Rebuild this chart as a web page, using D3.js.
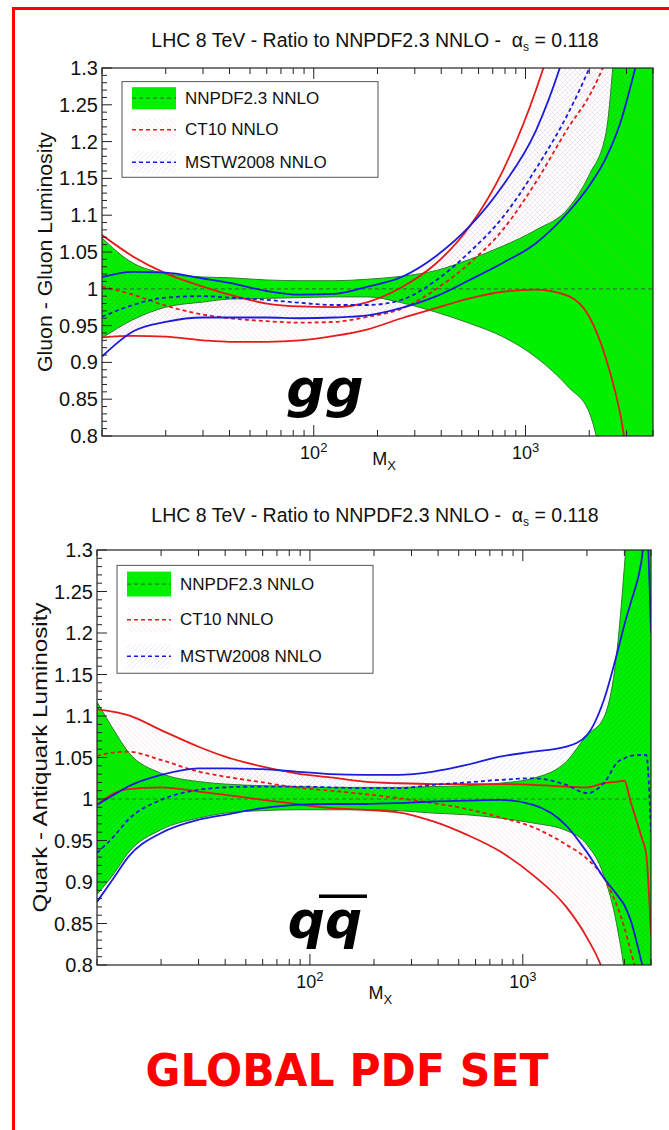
<!DOCTYPE html>
<html>
<head>
<meta charset="utf-8">
<script src="https://cdn.jsdelivr.net/npm/d3@7"></script>
<style>
  body { margin: 0; background: #fff; }
  svg { display: block; }
  text { font-family: "Liberation Sans", Arial, Helvetica, sans-serif; }
</style>
</head>
<body>
<div id="chart"></div>
<script>
// ---- data ----
// gluon-gluon panel
const massGG = [10, 14, 20, 30, 40, 60, 86, 125, 180, 260, 380, 545, 780, 1120, 1600, 2000, 2400, 2800, 3300, 4000];
const ggNnUp  = [1.069, 1.035, 1.021, 1.016, 1.015, 1.012, 1.011, 1.011, 1.013, 1.017, 1.025, 1.040, 1.058, 1.080, 1.110, 1.155, 1.212, 1.40, 1.45, 1.50];
const ggNnLo  = [0.933, 0.958, 0.975, 0.982, 0.986, 0.987, 0.988, 0.989, 0.989, 0.981, 0.968, 0.953, 0.935, 0.907, 0.866, 0.832, 0.75, 0.70, 0.65, 0.60];
const ggCtUp  = [1.073, 1.044, 1.021, 1.003, 0.992, 0.980, 0.976, 0.975, 0.982, 1.002, 1.035, 1.085, 1.160, 1.270, 1.420, 1.55, 1.65, 1.75, 1.85, 1.95];
const ggCtMid = [1.003, 0.992, 0.977, 0.965, 0.960, 0.956, 0.954, 0.955, 0.962, 0.973, 1.000, 1.035, 1.080, 1.145, 1.220, 1.262, 1.310, 1.36, 1.42, 1.50];
const ggCtLo  = [0.934, 0.936, 0.935, 0.930, 0.928, 0.928, 0.930, 0.936, 0.945, 0.960, 0.974, 0.987, 0.996, 0.999, 0.990, 0.962, 0.905, 0.830, 0.700, 0.600];
const ggMsUp  = [1.016, 1.023, 1.022, 1.014, 1.008, 0.997, 0.992, 0.993, 1.003, 1.016, 1.045, 1.085, 1.140, 1.215, 1.340, 1.45, 1.55, 1.65, 1.75, 1.85];
const ggMsMid = [0.962, 0.978, 0.988, 0.990, 0.988, 0.985, 0.981, 0.978, 0.978, 0.985, 1.012, 1.050, 1.097, 1.163, 1.240, 1.300, 1.36, 1.42, 1.50, 1.60];
const ggMsLo  = [0.908, 0.942, 0.955, 0.961, 0.961, 0.961, 0.960, 0.961, 0.964, 0.974, 0.990, 1.012, 1.035, 1.062, 1.105, 1.140, 1.178, 1.225, 1.300, 1.400];

// quark-antiquark panel
const massQQ = [10, 12, 14, 20, 30, 40, 60, 86, 125, 180, 260, 380, 545, 780, 1120, 1600, 2000, 2400, 2800, 3000, 3200, 3600, 3800, 4000];
const qqNnUp  = [1.117, 1.083, 1.057, 1.031, 1.021, 1.018, 1.016, 1.015, 1.014, 1.014, 1.014, 1.015, 1.016, 1.019, 1.025, 1.045, 1.077, 1.098, 1.19, 1.28, 1.38, 1.45, 1.45, 1.45];
const qqNnLo  = [0.885, 0.910, 0.935, 0.963, 0.977, 0.983, 0.986, 0.987, 0.987, 0.987, 0.986, 0.983, 0.981, 0.977, 0.971, 0.962, 0.945, 0.908, 0.840, 0.790, 0.70, 0.65, 0.60, 0.60];
const qqCtUp  = [1.108, 1.105, 1.101, 1.083, 1.063, 1.051, 1.039, 1.031, 1.026, 1.021, 1.019, 1.018, 1.018, 1.018, 1.017, 1.015, 1.014, 1.019, 1.021, 1.022, 0.998, 0.955, 0.933, 0.836];
const qqCtMid = [1.052, 1.056, 1.057, 1.047, 1.033, 1.027, 1.020, 1.014, 1.010, 1.006, 1.001, 0.995, 0.988, 0.978, 0.966, 0.945, 0.928, 0.905, 0.868, 0.845, 0.818, 0.77, 0.74, 0.70];
const qqCtLo  = [0.993, 1.007, 1.012, 1.014, 1.009, 1.005, 0.999, 0.994, 0.989, 0.987, 0.984, 0.973, 0.957, 0.937, 0.908, 0.870, 0.833, 0.790, 0.72, 0.68, 0.64, 0.58, 0.55, 0.52];
const qqMsUp  = [0.993, 1.005, 1.015, 1.029, 1.037, 1.037, 1.036, 1.033, 1.030, 1.029, 1.029, 1.033, 1.041, 1.051, 1.057, 1.063, 1.077, 1.119, 1.180, 1.210, 1.235, 1.285, 1.330, 1.200];
const qqMsMid = [0.935, 0.955, 0.975, 0.999, 1.011, 1.014, 1.015, 1.015, 1.014, 1.013, 1.013, 1.017, 1.020, 1.023, 1.025, 1.017, 1.007, 1.019, 1.045, 1.049, 1.052, 1.053, 1.053, 0.960];
const qqMsLo  = [0.876, 0.905, 0.930, 0.959, 0.975, 0.981, 0.989, 0.993, 0.994, 0.994, 0.995, 0.997, 0.998, 0.999, 0.993, 0.968, 0.936, 0.905, 0.883, 0.872, 0.855, 0.805, 0.780, 0.750];

const nnpdfRef = 1.0;
const yTickValues = [0.8, 0.85, 0.9, 0.95, 1.0, 1.05, 1.1, 1.15, 1.2, 1.25, 1.3];
const yTickLabels = ["0.8", "0.85", "0.9", "0.95", "1", "1.05", "1.1", "1.15", "1.2", "1.25", "1.3"];
const xMajorTicks = [100, 1000];
const xMajorExps = ["2", "3"];
const legendLabels = ["NNPDF2.3 NNLO", "CT10 NNLO", "MSTW2008 NNLO"];
const titleText = "LHC 8 TeV - Ratio to NNPDF2.3 NNLO -\u00a0\u00a0";

const W = 669, H = 1130;
const cRed = "#e31b1b", cBlue = "#1c1cdc", cGreen = "#00f000", cDkGreen = "#2f7d2f";

const svg = d3.select("#chart").append("svg").attr("width", W).attr("height", H);
svg.append("rect").attr("width", W).attr("height", H).attr("fill", "#fff");
const defs = svg.append("defs");

// faint hatch fills used for the CT10 and MSTW bands
function hatch(id, color, dir) {
    const p = defs.append("pattern").attr("id", id)
        .attr("patternUnits", "userSpaceOnUse").attr("width", 5).attr("height", 5);
    const d = dir > 0 ? "M-1,1L1,-1M0,5L5,0M4,6L6,4" : "M-1,4L1,6M0,0L5,5M4,-1L6,1";
    p.append("path").attr("d", d).attr("stroke", color)
        .attr("stroke-width", 0.8).attr("stroke-opacity", 0.13);
}
hatch("hatchRed", cRed, -1);
hatch("hatchBlue", cBlue, 1);

// red frame of the slide
svg.append("rect").attr("x", 13.5).attr("y", 8.5).attr("width", 720).attr("height", 1200)
    .attr("fill", "none").attr("stroke", "#ff0000").attr("stroke-width", 3);

function drawPanel(p) {
    const x = d3.scaleLog().domain([10, 4000]).range([p.left, p.right]);
    const y = d3.scaleLinear().domain([0.8, 1.3]).range([p.bottom, p.top]);
    const ph = p.bottom - p.top;
    const g = svg.append("g");

    defs.append("clipPath").attr("id", "clip-" + p.id).append("rect")
        .attr("x", p.left).attr("y", p.top)
        .attr("width", p.right - p.left).attr("height", ph);

    const plot = g.append("g").attr("clip-path", "url(#clip-" + p.id + ")");

    const area = (lo, hi) => d3.area()
        .x(m => x(m))
        .y0((m, i) => y(lo[i]))
        .y1((m, i) => y(hi[i]))
        .curve(d3.curveMonotoneX)(p.mass);
    const line = arr => d3.line()
        .x(m => x(m))
        .y((m, i) => y(arr[i]))
        .curve(d3.curveMonotoneX)(p.mass);

    // NNPDF band
    plot.append("path").attr("d", area(p.nnLo, p.nnUp)).attr("fill", cGreen);
    // CT10 and MSTW hatched bands
    plot.append("path").attr("d", area(p.ctLo, p.ctUp)).attr("fill", "url(#hatchRed)");
    plot.append("path").attr("d", area(p.msLo, p.msUp)).attr("fill", "url(#hatchBlue)");

    [p.nnUp, p.nnLo].forEach(arr => {
        plot.append("path").attr("d", line(arr)).attr("fill", "none")
            .attr("stroke", cDkGreen).attr("stroke-width", 1);
    });
    plot.append("line")
        .attr("x1", p.left).attr("x2", p.right)
        .attr("y1", y(nnpdfRef)).attr("y2", y(nnpdfRef))
        .attr("stroke", cDkGreen).attr("stroke-width", 1.2).attr("stroke-dasharray", "4,3");

    const curves = [
        [p.ctUp, cRed, null], [p.ctLo, cRed, null], [p.ctMid, cRed, "4,3"],
        [p.msUp, cBlue, null], [p.msLo, cBlue, null], [p.msMid, cBlue, "4,3"]
    ];
    curves.forEach(c => {
        plot.append("path").attr("d", line(c[0])).attr("fill", "none")
            .attr("stroke", c[1]).attr("stroke-width", 1.8)
            .attr("stroke-dasharray", c[2]);
    });

    // frame
    g.append("rect").attr("x", p.left).attr("y", p.top)
        .attr("width", p.right - p.left).attr("height", ph)
        .attr("fill", "none").attr("stroke", "#222").attr("stroke-width", 1.2);

    // y ticks (inside), major + minor
    const yMinor = d3.range(80, 131).map(v => v / 100);
    g.selectAll(null).data(yMinor).enter().append("line")
        .attr("x1", p.left).attr("x2", (d, i) => p.left + (i % 5 === 0 ? 10 : 5))
        .attr("y1", d => y(d)).attr("y2", d => y(d))
        .attr("stroke", "#222").attr("stroke-width", 1);
    g.selectAll(null).data(yTickValues).enter().append("text")
        .attr("x", p.left - 4).attr("y", d => y(d))
        .attr("text-anchor", "end").attr("dominant-baseline", "central")
        .attr("font-size", 20).attr("fill", "#111")
        .text((d, i) => yTickLabels[i]);

    // x ticks on bottom and top
    const xt = x.ticks().filter(v => v >= 10 && v <= 4000);
    [[p.bottom, -1], [p.top, 1]].forEach(([base, s]) => {
        g.selectAll(null).data(xt).enter().append("line")
            .attr("x1", d => x(d)).attr("x2", d => x(d))
            .attr("y1", base)
            .attr("y2", d => base + s * (xMajorTicks.includes(d) ? 11 : 6))
            .attr("stroke", "#222").attr("stroke-width", 1);
    });
    xMajorTicks.forEach((v, i) => {
        const t = g.append("text").attr("x", x(v)).attr("y", p.bottom + 23)
            .attr("text-anchor", "middle").attr("font-size", 18).attr("fill", "#111");
        t.append("tspan").text("10");
        t.append("tspan").attr("dy", -7).attr("font-size", 13).text(xMajorExps[i]);
    });
    const mx = g.append("text").attr("x", p.left + 0.49 * (p.right - p.left) + 12)
        .attr("y", p.xTitleY).attr("text-anchor", "middle")
        .attr("font-size", 18).attr("fill", "#111");
    mx.append("tspan").text("M");
    mx.append("tspan").attr("dy", 5).attr("font-size", 13).text("X");

    // y axis title
    g.append("text")
        .attr("transform", "translate(" + p.yTitleX + "," + (p.top + ph * 0.5) + ") rotate(-90)")
        .attr("text-anchor", "middle").attr("font-size", 20).attr("fill", "#111")
        .attr("textLength", p.yTitleLen).attr("lengthAdjust", "spacingAndGlyphs")
        .text(p.yTitle);

    // panel title
    const tt = g.append("text").attr("x", 375).attr("y", p.titleY)
        .attr("text-anchor", "middle").attr("font-size", 19.5).attr("fill", "#111");
    tt.append("tspan").text(titleText + "\u03b1");
    tt.append("tspan").attr("dy", 4).attr("font-size", 12).text("s");
    tt.append("tspan").attr("dy", -4).text(" = 0.118");

    // legend
    const lx0 = p.left + 20, lx1 = p.left + 276;
    const ly0 = p.top + 0.037 * ph, ly1 = p.top + 0.297 * ph;
    const lg = g.append("g");
    lg.append("rect").attr("x", lx0).attr("y", ly0).attr("width", lx1 - lx0).attr("height", ly1 - ly0)
        .attr("fill", "#fff").attr("stroke", "#555").attr("stroke-width", 1);
    const rowY = [0.082, 0.168, 0.256].map(f => p.top + f * ph);
    const boxH = 0.06 * ph;
    const fills = [cGreen, "url(#hatchRed)", "url(#hatchBlue)"];
    const strokes = [cDkGreen, cRed, cBlue];
    legendLabels.forEach((lab, i) => {
        lg.append("rect").attr("x", p.left + 30).attr("y", rowY[i] - boxH / 2)
            .attr("width", 44).attr("height", boxH).attr("fill", fills[i]);
        lg.append("line").attr("x1", p.left + 30).attr("x2", p.left + 74)
            .attr("y1", rowY[i]).attr("y2", rowY[i])
            .attr("stroke", strokes[i]).attr("stroke-width", i === 0 ? 1.2 : 1.6)
            .attr("stroke-dasharray", "4,3");
        lg.append("text").attr("x", p.left + 83).attr("y", rowY[i])
            .attr("dominant-baseline", "central").attr("font-size", 17).attr("fill", "#111")
            .text(lab);
    });
    return {x, y};
}

drawPanel({
    id: "gg", left: 102, right: 653, top: 68, bottom: 436,
    mass: massGG, nnUp: ggNnUp, nnLo: ggNnLo,
    ctUp: ggCtUp, ctMid: ggCtMid, ctLo: ggCtLo,
    msUp: ggMsUp, msMid: ggMsMid, msLo: ggMsLo,
    yTitle: "Gluon - Gluon Luminosity", yTitleX: 52, yTitleLen: 240,
    titleY: 47, xTitleY: 465
});

drawPanel({
    id: "qq", left: 97, right: 651, top: 550, bottom: 965,
    mass: massQQ, nnUp: qqNnUp, nnLo: qqNnLo,
    ctUp: qqCtUp, ctMid: qqCtMid, ctLo: qqCtLo,
    msUp: qqMsUp, msMid: qqMsMid, msLo: qqMsLo,
    yTitle: "Quark - Antiquark Luminosity", yTitleX: 47, yTitleLen: 310,
    titleY: 522, xTitleY: 999
});

// big process labels
svg.append("text").attr("x", 325).attr("y", 407).attr("text-anchor", "middle")
    .style("font-family", "'DejaVu Sans', sans-serif").attr("font-weight", "bold")
    .attr("font-style", "italic").attr("font-size", 54).attr("fill", "#000")
    .text("gg");
svg.append("text").attr("x", 325).attr("y", 938).attr("text-anchor", "middle")
    .style("font-family", "'DejaVu Sans', sans-serif").attr("font-weight", "bold")
    .attr("font-style", "italic").attr("font-size", 52).attr("fill", "#000")
    .text("qq");
svg.append("rect").attr("x", 319).attr("y", 894.5).attr("width", 48).attr("height", 3.5).attr("fill", "#000");

svg.append("text").attr("x", 347).attr("y", 1086).attr("text-anchor", "middle")
    .style("font-family", "'DejaVu Sans', sans-serif").attr("font-weight", "bold")
    .attr("font-size", 44).attr("fill", "#ff0000")
    .attr("textLength", 403).attr("lengthAdjust", "spacingAndGlyphs")
    .text("GLOBAL PDF SET");
</script>
</body>
</html>
